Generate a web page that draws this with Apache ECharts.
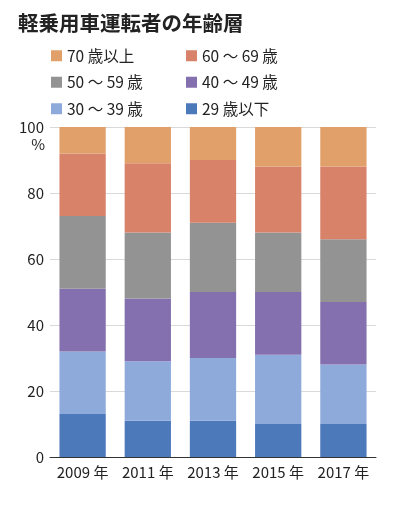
<!DOCTYPE html>
<html><head><meta charset="utf-8">
<script src="https://cdn.jsdelivr.net/npm/echarts@6/dist/echarts.min.js"></script>
<style>html,body{margin:0;padding:0;background:#fff}#c{width:395px;height:506px}</style>
</head><body><div id="c"></div>
<script>
const categories = ['2009 年','2011 年','2013 年','2015 年','2017 年'];
const age29under = [13, 11, 11, 10, 10];
const age30to39 = [19, 18, 19, 21, 18];
const age40to49 = [19, 19, 20, 19, 19];
const age50to59 = [22, 20, 21, 18, 19];
const age60to69 = [19, 21, 19, 20, 22];
const age70over = [8, 11, 10, 12, 12];
const seriesNames = ['29 歳以下','30 〜 39 歳','40 〜 49 歳','50 〜 59 歳','60 〜 69 歳','70 歳以上'];
const seriesColors = ['#4C79BA','#8EAADB','#8470AE','#939393','#D9826A','#E1A06A'];
const yTicks = [0,20,40,60,80,100];

const font = '"Noto Sans CJK JP","Noto Sans",sans-serif';
const values = [age29under, age30to39, age40to49, age50to59, age60to69, age70over];
const chart = echarts.init(document.getElementById('c'));
const legendBase = {
  orient: 'vertical', icon: 'rect', itemWidth: 11, itemHeight: 11, itemGap: 11,
  textStyle: { fontFamily: font, fontSize: 15.5, color: '#222' }, selectedMode: false
};
chart.setOption({
  animation: false,
  textStyle: { fontFamily: font },
  title: { text: '軽乗用車運転者の年齢層', left: 13, top: 8,
    textStyle: { fontFamily: font, fontSize: 20.5, fontWeight: 'bold', color: '#222' } },
  legend: [
    Object.assign({}, legendBase, { left: 46, top: 43, data: [seriesNames[5], seriesNames[3], seriesNames[1]] }),
    Object.assign({}, legendBase, { left: 181, top: 43, data: [seriesNames[4], seriesNames[2], seriesNames[0]] })
  ],
  grid: { left: 50, right: 19, top: 127, bottom: 49, containLabel: false },
  xAxis: { type: 'category', data: categories,
    axisLine: { lineStyle: { color: '#333', width: 1 } }, axisTick: { show: false },
    axisLabel: { fontFamily: font, fontSize: 15, color: '#222', margin: 8, interval: 0 } },
  yAxis: { type: 'value', min: yTicks[0], max: yTicks[yTicks.length-1], interval: 20,
    axisLine: { show: false }, axisTick: { show: false },
    splitLine: { lineStyle: { color: '#d9d9d9' } },
    axisLabel: { fontFamily: font, fontSize: 15, color: '#222', margin: 6 } },
  graphic: [{ type: 'text', right: 395 - 45, top: 137,
    style: { text: '%', font: '15px ' + font, fill: '#222', textAlign: 'right' } }],
  series: values.map((v, i) => ({
    name: seriesNames[i], type: 'bar', stack: 'all', data: v, barWidth: '71%',
    itemStyle: { color: seriesColors[i] }
  }))
});
</script></body></html>
